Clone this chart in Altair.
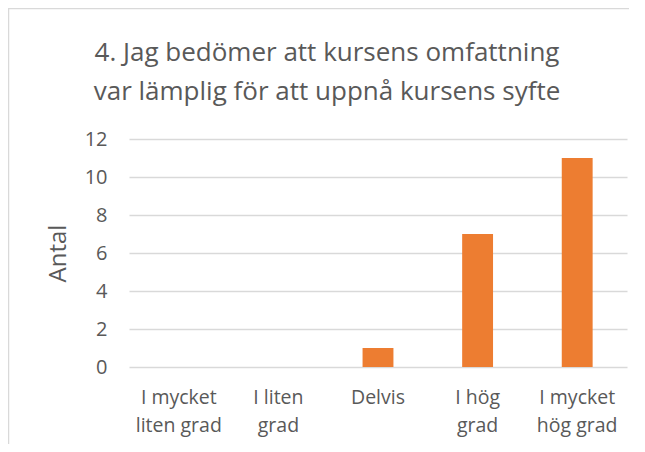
import json
import altair as alt
import pandas as pd

title_lines = ["4. Jag bedömer att kursens omfattning", "var lämplig för att uppnå kursens syfte"]
category_lines = [["I mycket", "liten grad"], ["I liten", "grad"], ["Delvis"], ["I hög", "grad"], ["I mycket", "hög grad"]]
categories = [" ".join(l) for l in category_lines]
values = [0, 0, 1, 7, 11]
y_ticks = [0, 2, 4, 6, 8, 10, 12]
y_title = "Antal"

df = pd.DataFrame({"kategori": categories, "antal": values})
label_map = json.dumps(dict(zip(categories, category_lines)), ensure_ascii=False)

FONT = "Open Sans"
TXT = "#595959"

bars = alt.Chart(df).mark_bar(color="#ED7D31").encode(
    x=alt.X("kategori:N", sort=categories,
            scale=alt.Scale(paddingInner=0.69, paddingOuter=0.345),
            axis=alt.Axis(title=None, labelAngle=0, ticks=False, domain=False,
                          labelPadding=21, labelFontSize=19.5, labelColor=TXT,
                          labelFont=FONT, labelLineHeight=28, labelBaseline="top",
                          labelExpr=f"{label_map}[datum.value]")),
    y=alt.Y("antal:Q", scale=alt.Scale(domain=[0, 12], nice=False),
            axis=alt.Axis(values=y_ticks, title=y_title, ticks=False, domain=False,
                          labelPadding=22, labelFontSize=20, labelColor=TXT, labelFont=FONT,
                          gridColor="#D9D9D9", gridWidth=1.3,
                          titleFontSize=24, titleFontWeight="normal", titleColor=TXT,
                          titleFont=FONT, titlePadding=14)),
)

frame = alt.Chart(pd.DataFrame({"f": [0]})).mark_rect(
    fill="transparent", stroke="#D9D9D9", strokeWidth=1.5
).encode(x=alt.value(-120.5), x2=alt.value(700), y=alt.value(-130.5), y2=alt.value(600))

chart = alt.layer(frame, bars).properties(
    width=498, height=228,
    autosize=alt.AutoSizeParams(type="none"),
    padding={"left": 121, "top": 131, "right": 2, "bottom": 77},
    title=alt.TitleParams(text=title_lines, fontSize=26, fontWeight="normal", color=TXT,
                          font=FONT, lineHeight=39, anchor="middle", dx=-51, offset=0, dy=97),
).configure_view(stroke=None)

chart.save("out.html", embed_options={"renderer": "svg", "actions": False})
